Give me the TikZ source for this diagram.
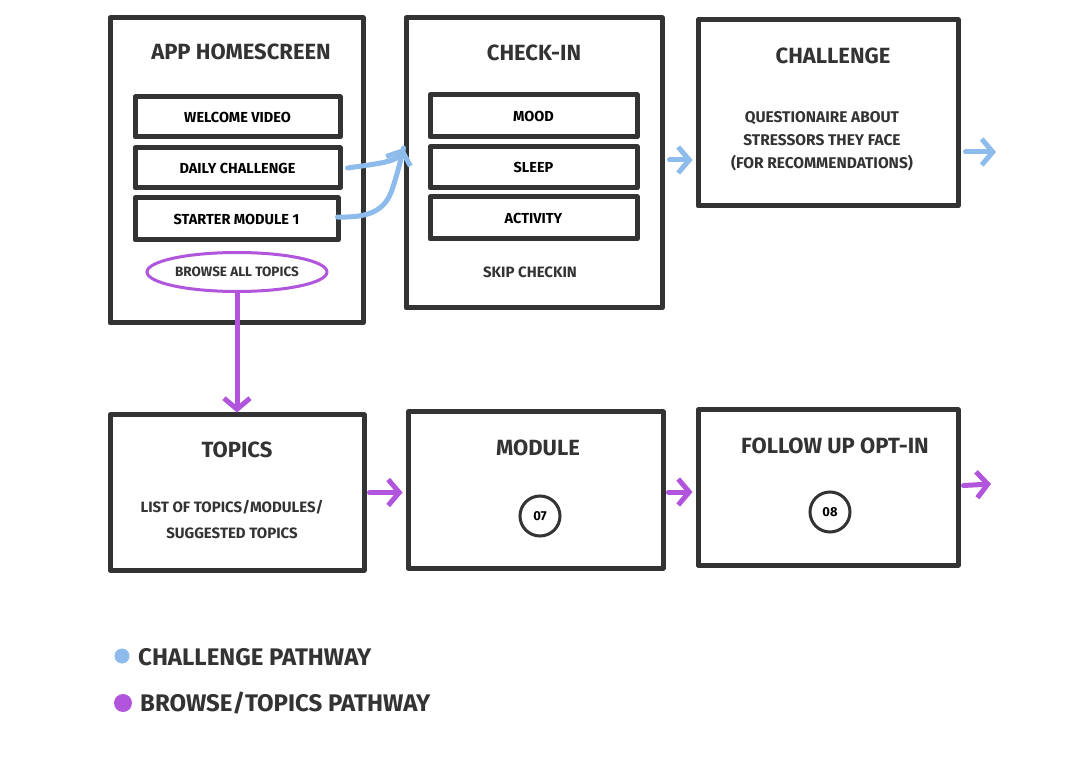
\documentclass[tikz,border=0pt]{standalone}
\usepackage{fontspec}
\setmainfont{Fira Sans}
\usetikzlibrary{arrows.meta,calc,shapes.geometric}
\definecolor{ink}{HTML}{333333}
\definecolor{pblue}{HTML}{8DBBEB}
\definecolor{ppurple}{HTML}{B155DC}
\tikzset{
  screen/.style={draw=ink,line width=5pt,line join=round,fill=white,inner sep=0pt},
  item/.style={draw=ink,line width=5pt,line join=round,fill=white,inner sep=0pt,
    minimum width=205pt,minimum height=40pt,font=\fontsize{14.5}{16}\selectfont\bfseries},
  title/.style={font=\fontsize{22}{26}\selectfont\bfseries,text=ink,inner sep=0pt},
  body/.style={font=\fontsize{15.5}{23}\selectfont\bfseries,text=ink,inner sep=0pt,align=center},
  num/.style={circle,draw=ink,line width=3pt,minimum size=40pt,inner sep=0pt,font=\fontsize{13}{14}\selectfont\bfseries},
  legend/.style={font=\fontsize{24}{28}\selectfont\bfseries,text=ink,inner sep=0pt,anchor=west},
  barrow/.style={draw=pblue,line width=5pt,line cap=round,-{Straight Barb[length=11pt,width=26pt,line width=5pt]}},
  parrow/.style={draw=ppurple,line width=5pt,line cap=round,-{Straight Barb[length=11pt,width=26pt,line width=5pt]}}
}
\begin{document}
\begin{tikzpicture}[x=1pt,y=-1pt]
\useasboundingbox[fill=white] (0,0) rectangle (1080,759);

% top row screens
\node[screen,minimum width=253pt,minimum height=305pt] (home) at (236.5,170.5) {};
\node[screen,minimum width=256pt,minimum height=290pt] (checkin) at (534,163) {};
\node[screen,minimum width=260pt,minimum height=186pt] (chal) at (828,113) {};

% bottom row screens
\node[screen,minimum width=254pt,minimum height=155pt] (topics) at (237,492.5) {};
\node[screen,minimum width=255pt,minimum height=156pt] (module) at (535.5,490) {};
\node[screen,minimum width=260pt,minimum height=155pt] (follow) at (828,487.5) {};

% home content
\node[title] (hometitle) at (241,52) {APP HOMESCREEN};
\node[item] (welcome) at (237.5,117) {WELCOME VIDEO};
\node[item] (daily) at (237.5,168) {DAILY CHALLENGE};
\node[item,minimum width=203pt,minimum height=42pt] (starter) at (236.5,219) {STARTER MODULE 1};
\node[ellipse,draw=ppurple,line width=3pt,minimum width=180pt,minimum height=39pt,inner sep=0pt,
  font=\fontsize{13.5}{15}\selectfont\bfseries,text=ink] (browse) at (237,272) {BROWSE ALL TOPICS};

% check-in content
\node[title] (chtitle) at (534,53) {CHECK-IN};
\node[item,minimum width=207pt,minimum height=42pt] (mood) at (533.5,116) {MOOD};
\node[item,minimum width=207pt,minimum height=41pt] (sleep) at (533.5,167.5) {SLEEP};
\node[item,minimum width=207pt,minimum height=42pt] (activity) at (533.5,218) {ACTIVITY};
\node[body,font=\fontsize{15}{18}\selectfont\bfseries] (skip) at (530,272) {SKIP CHECKIN};

% challenge content
\node[title] (chaltitle) at (833,56) {CHALLENGE};
\node[body] (chaltext) at (822,141) {QUESTIONAIRE ABOUT\\STRESSORS THEY FACE\\(FOR RECOMMENDATIONS)};

% topics content
\node[title] (toptitle) at (237,450) {TOPICS};
\node[body,font=\fontsize{15}{26}\selectfont\bfseries] (toptext) at (232,520) {LIST OF TOPICS/MODULES/\\SUGGESTED TOPICS};

% module content
\node[title] (modtitle) at (538,448) {MODULE};
\node[num] (m07) at (540,516) {07};

% follow up content
\node[title] (foltitle) at (835,446) {FOLLOW UP OPT-IN};
\node[num] (m08) at (830,512) {08};

% blue pathway
\coordinate (cin) at ([yshift=15pt]checkin.west);
\draw[barrow] (daily.east) ++(5,0) .. controls (375,164) and (398,162) .. (cin);
\draw[draw=pblue,line width=5pt,line cap=round] (starter.east) ++(-3,-2) .. controls (370,218) and (385,210) .. (392,190)
  .. controls (398,172) and (402,155) .. (cin);
\draw[barrow] ([xshift=5pt,yshift=3pt]checkin.east) -- ([xshift=-3pt,yshift=-47pt]chal.west);
\coordinate (chalout) at (996,152);
\draw[barrow] ([xshift=5pt,yshift=-39pt]chal.east) -- (chalout);

% purple pathway
\draw[parrow] (browse.south) -- (topics.north);
\draw[parrow] ([xshift=3pt]topics.east) -- ([xshift=-3pt,yshift=-2.5pt]module.west);
\draw[parrow] ([xshift=3pt,yshift=-2pt]module.east) -- ([xshift=-3pt,yshift=-4.5pt]follow.west);
\coordinate (folout) at (991,484);
\draw[parrow] ([xshift=3pt,yshift=2pt]follow.east) -- (folout);

% legend
\node[circle,fill=pblue,minimum size=15pt,inner sep=0pt] (lb) at (122,656) {};
\node[legend] (lbt) at (138,657) {CHALLENGE PATHWAY};
\node[circle,fill=ppurple,minimum size=18pt,inner sep=0pt] (lp) at (123,703) {};
\node[legend] (lpt) at (140,703) {BROWSE/TOPICS PATHWAY};
\end{tikzpicture}
\end{document}
